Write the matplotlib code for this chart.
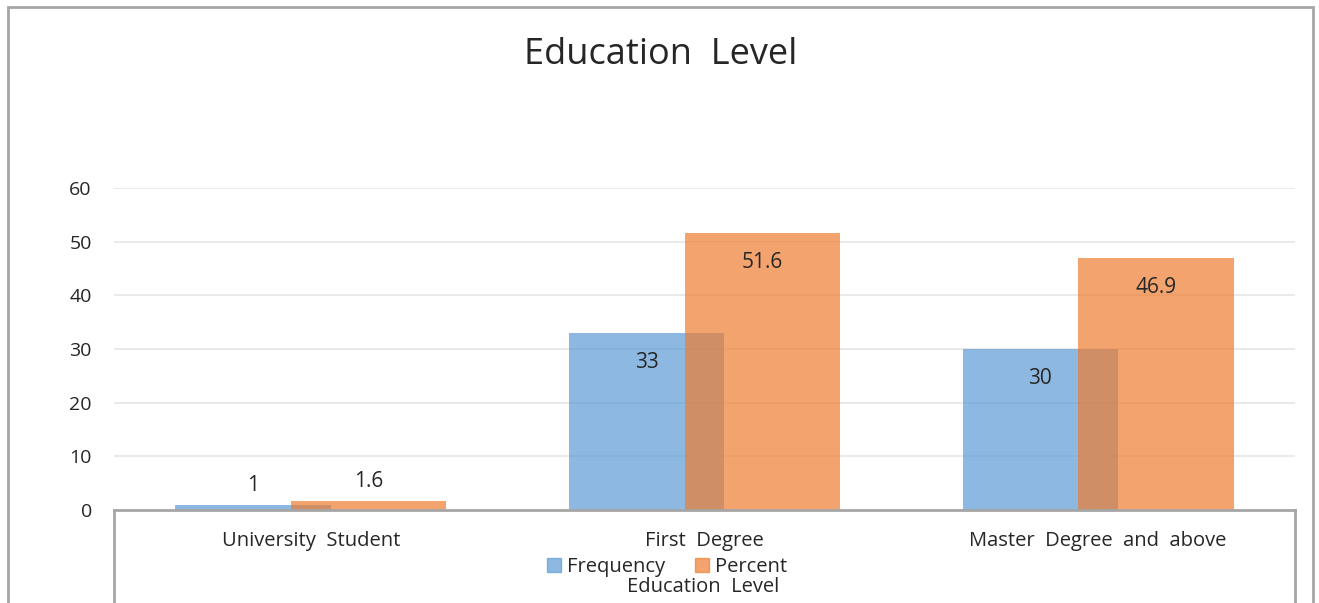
import numpy as np
import matplotlib.pyplot as plt
from matplotlib.patches import Rectangle, Patch
from matplotlib.lines import Line2D

plt.rcParams['font.family'] = ['Open Sans', 'DejaVu Sans']

# Daten
categories = ['University  Student', 'First  Degree', 'Master  Degree  and  above']
frequency = [1, 33, 30]
percent = [1.6, 51.6, 46.9]
freq_labels = ['1', '33', '30']
pct_labels = ['1.6', '51.6', '46.9']

blue = '#5B9BD5'
orange = '#ED7D31'
textcol = '#262626'

fig = plt.figure(figsize=(13.19, 6.03), dpi=100)
ax = fig.add_axes([114/1319, 93/603, (1295-114)/1319, (510-188)/603])

x = np.arange(len(categories))
offset = 0.147
width = 0.394

ax.bar(x - offset, frequency, width, color=blue, alpha=0.7, zorder=2)
ax.bar(x + offset, percent, width, color=orange, alpha=0.7, zorder=3)

def labels(xs, vals, texts):
    for xi, v, t in zip(xs, vals, texts):
        dy = -21 if v > 5 else 14
        ax.annotate(t, (xi, v), xytext=(0, dy), textcoords='offset points',
                    ha='center', va='center', fontsize=15, color=textcol, zorder=5)

labels(x - offset, frequency, freq_labels)
labels(x + offset, percent, pct_labels)

ax.set_xlim(-0.5, 2.5)
ax.set_ylim(0, 60)
ax.set_yticks(range(0, 61, 10))
ax.grid(axis='y', color='#E6E6E6', linewidth=1.2, zorder=0)
ax.set_axisbelow(True)

for s in ['top', 'right', 'left']:
    ax.spines[s].set_visible(False)
ax.spines['bottom'].set_color('#A6A6A6')
ax.spines['bottom'].set_linewidth(2)
ax.spines['bottom'].set_zorder(6)

ax.tick_params(axis='y', length=0, pad=16, labelsize=14, labelcolor=textcol)
ax.set_xticks(x)
ax.set_xticklabels(categories)
ax.tick_params(axis='x', length=0, pad=15, labelsize=14.5, labelcolor=textcol)

# innerer Kasten unter der Achse
for xa in [0, 1]:
    ax.add_line(Line2D([xa, xa], [0, -0.35], transform=ax.transAxes,
                       color='#A6A6A6', linewidth=2, clip_on=False))

fig.text(661/1319, 1 - 55/603, 'Education  Level', fontsize=26, color=textcol,
         ha='center', va='center')
fig.text(703/1319, 1 - 587/603, 'Education  Level', fontsize=14.5, color=textcol,
         ha='center', va='center')

handles = [Patch(color=blue, alpha=0.7), Patch(color=orange, alpha=0.7)]
fig.legend(handles, ['Frequency', 'Percent'], loc='center',
           bbox_to_anchor=(667/1319, 1 - 567/603),
           ncol=2, frameon=False, fontsize=14.5, handlelength=0.7, handleheight=0.7,
           handletextpad=0.3, columnspacing=1.5, labelcolor=textcol)

# aeusserer Rahmen
fig.add_artist(Rectangle((8/1319, -0.05), (1313-8)/1319, 1.05 - 7/603, transform=fig.transFigure,
                         fill=False, edgecolor='#A6A6A6', linewidth=2))

fig.savefig('out.png', dpi=100)
